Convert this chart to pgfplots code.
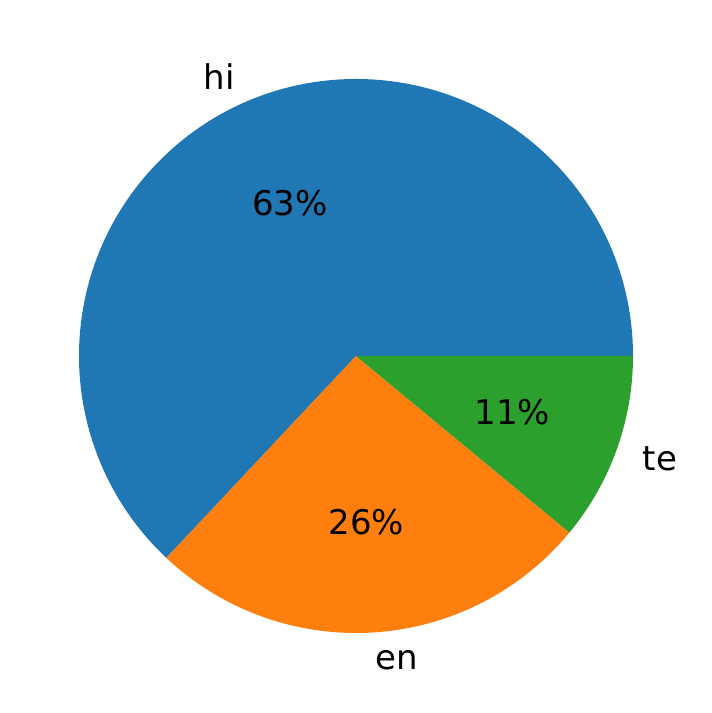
\documentclass[border=0pt]{standalone}
\usepackage{pgfplots}
\pgfplotsset{compat=1.18}
\usetikzlibrary{calc}
\usepackage{fontspec}
\setmainfont{DejaVu Sans}
\definecolor{tabblue}{HTML}{1F77B4}
\definecolor{taborange}{HTML}{FF7F0E}
\definecolor{tabgreen}{HTML}{2CA02C}
% pie values (percent)
\def\vhi{63}
\def\ven{26}
\def\vte{11}
\begin{document}
\begin{tikzpicture}
\begin{axis}[
  scale only axis, width=712bp, height=713bp,
  xmin=0, xmax=712, ymin=0, ymax=713,
  hide axis, clip=false,
]
\path (axis cs:0,0) rectangle (axis cs:712,713);
\pgfmathsetmacro{\tot}{\vhi+\ven+\vte}
\pgfmathsetmacro{\aA}{0}
\pgfmathsetmacro{\aB}{\aA+3.6*(\vhi/\tot)*100}
\pgfmathsetmacro{\aC}{\aB+3.6*(\ven/\tot)*100}
\pgfmathsetmacro{\aD}{360}
\def\R{277bp}
\fill[tabblue] (axis cs:356,357) -- +(\aA:\R) arc[start angle=\aA, end angle=\aB, radius=\R] -- cycle;
\fill[taborange] (axis cs:356,357) -- +(\aB:\R) arc[start angle=\aB, end angle=\aC, radius=\R] -- cycle;
\fill[tabgreen] (axis cs:356,357) -- +(\aC:\R) arc[start angle=\aC, end angle=\aD, radius=\R] -- cycle;
\pgfmathsetmacro{\mA}{(\aA+\aB)/2}
\pgfmathsetmacro{\mB}{(\aB+\aC)/2}
\pgfmathsetmacro{\mC}{(\aC+\aD)/2}
\tikzset{lbl/.style={inner sep=0pt, font=\fontsize{34bp}{40bp}\selectfont}}
\node[lbl, anchor=east] at ($(axis cs:356,357)+(\mA:1.1*\R)$) {hi};
\node[lbl, anchor=west] at ($(axis cs:356,357)+(\mB:1.1*\R)$) {en};
\node[lbl, anchor=west] at ($(axis cs:356,357)+(\mC:1.1*\R)$) {te};
\node[lbl] at ($(axis cs:356,357)+(\mA:0.6*\R)$) {\vhi\%};
\node[lbl] at ($(axis cs:356,357)+(\mB:0.6*\R)$) {\ven\%};
\node[lbl] at ($(axis cs:356,357)+(\mC:0.6*\R)$) {\vte\%};
\end{axis}
\end{tikzpicture}
\end{document}
